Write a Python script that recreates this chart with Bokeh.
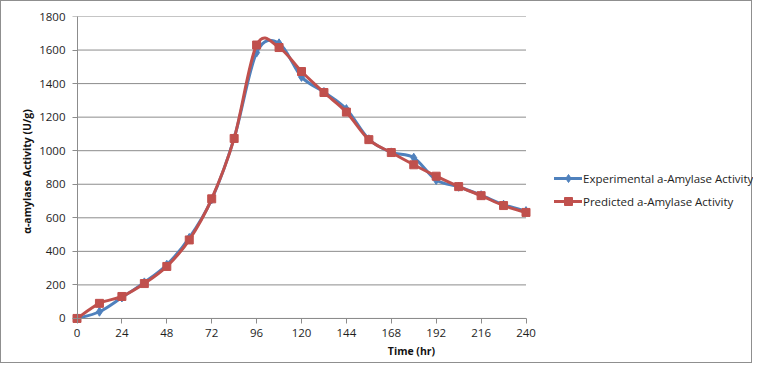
import numpy as np
from bokeh.plotting import figure
from bokeh.models import (Range1d, Legend, LegendItem, ColumnDataSource, FixedTicker,
                          LinearAxis, CustomJSTickFormatter)
from bokeh.embed import file_html
from bokeh.resources import INLINE

# ---- data ----
time_hr = [0, 12, 24, 36, 48, 60, 72, 84, 96, 108, 120, 132, 144, 156, 168, 180, 192, 204, 216, 228, 240]
experimental = [0, 40, 125, 215, 320, 480, 710, 1075, 1585, 1640, 1440, 1350, 1248, 1068, 990, 958, 825, 785, 735, 678, 640]
predicted = [0, 90, 131, 208, 310, 468, 713, 1073, 1630, 1615, 1472, 1347, 1230, 1066, 989, 916, 848, 786, 732, 673, 632]
x_ticks = [0, 24, 48, 72, 96, 120, 144, 168, 192, 216, 240]
y_ticks = [0, 200, 400, 600, 800, 1000, 1200, 1400, 1600, 1800]

BLUE = "#4F81BD"
RED = "#C0504D"
GRID = "#8c8c8c"
FONT = "Open Sans"
TXT = "#1e1e1e"

W, H = 752, 363
LEFT, TOP, BOTTOM = 68, 15, 38
PLOT_W = 449          # pixels covered by the 0..240 axis
X_PAD_PX, Y_PAD = 7.5, 48


def bezier_source(xs, ys):
    x = np.asarray(xs, dtype=float)
    y = np.asarray(ys, dtype=float)
    n = len(x)
    xp = np.concatenate([[x[0]], x, [x[-1]]])
    yp = np.concatenate([[y[0]], y, [y[-1]]])
    i = np.arange(n - 1)
    # Excel-like smoothed line (Catmull-Rom control points)
    cx0 = x[i] + (xp[i + 2] - xp[i]) / 6.0
    cy0 = y[i] + (yp[i + 2] - yp[i]) / 6.0
    cx1 = x[i + 1] - (xp[i + 3] - xp[i + 1]) / 6.0
    cy1 = y[i + 1] - (yp[i + 3] - yp[i + 1]) / 6.0
    return ColumnDataSource(dict(x0=x[i], y0=y[i], x1=x[i + 1], y1=y[i + 1],
                                 cx0=cx0, cy0=cy0, cx1=cx1, cy1=cy1))


x_lo, x_hi = x_ticks[0], x_ticks[-1]
y_lo, y_hi = y_ticks[0], y_ticks[-1]
px_per_x = PLOT_W / (x_hi - x_lo)
frame_w = W - LEFT
x_start = x_lo - X_PAD_PX / px_per_x
x_end = x_start + frame_w / px_per_x

p = figure(width=W, height=H, output_backend="svg", toolbar_location=None,
           x_range=Range1d(x_start, x_end), y_range=Range1d(y_lo - Y_PAD, y_hi),
           x_axis_location=None, y_axis_location=None,
           min_border_left=LEFT, min_border_right=0, min_border_top=TOP, min_border_bottom=BOTTOM,
           styles={"border": "1px solid #8f8f8f", "box-sizing": "border-box"})
p.outline_line_color = None
p.background_fill_color = "white"
p.border_fill_color = "white"
p.xgrid.visible = False
p.ygrid.visible = False

# horizontal gridlines spanning exactly the axis extent
p.segment(x0=[x_lo] * len(y_ticks), x1=[x_hi] * len(y_ticks), y0=y_ticks, y1=y_ticks,
          line_color=GRID, line_width=1)

blank = CustomJSTickFormatter(code="return ''")

# axis lines + tick marks crossing at the origin
x_line = LinearAxis(ticker=FixedTicker(ticks=x_ticks), fixed_location=y_lo, bounds=(x_lo, x_hi),
                    formatter=blank, axis_line_color=GRID, major_tick_line_color=GRID,
                    minor_tick_line_color=None, major_tick_in=0, major_tick_out=5)
y_line = LinearAxis(ticker=FixedTicker(ticks=y_ticks), fixed_location=x_lo, bounds=(y_lo, y_hi),
                    formatter=blank, axis_line_color=GRID, major_tick_line_color=GRID,
                    minor_tick_line_color=None, major_tick_in=0, major_tick_out=5)
p.add_layout(x_line, "below")
p.add_layout(y_line, "left")

# tick labels + axis titles
x_lab = LinearAxis(ticker=FixedTicker(ticks=x_ticks), axis_line_color=None,
                   major_tick_line_color=None, minor_tick_line_color=None,
                   major_tick_in=0, major_tick_out=0, major_label_standoff=2,
                   axis_label="Time (hr)", axis_label_standoff=4)
y_lab = LinearAxis(ticker=FixedTicker(ticks=y_ticks), axis_line_color=None,
                   major_tick_line_color=None, minor_tick_line_color=None,
                   major_tick_in=0, major_tick_out=0, major_label_standoff=4,
                   axis_label="α-amylase Activity (U/g)", axis_label_standoff=2)
for ax in (x_lab, y_lab):
    ax.major_label_text_font = FONT
    ax.major_label_text_font_size = "11.5px"
    ax.major_label_text_color = TXT
    ax.axis_label_text_font = FONT
    ax.axis_label_text_font_style = "bold"
    ax.axis_label_text_font_size = "10.5px"
    ax.axis_label_text_color = "#111111"
p.add_layout(x_lab, "below")
p.add_layout(y_lab, "left")

src_e = bezier_source(time_hr, experimental)
src_p = bezier_source(time_hr, predicted)

line_e = p.bezier(x0="x0", y0="y0", x1="x1", y1="y1", cx0="cx0", cy0="cy0", cx1="cx1", cy1="cy1",
                  source=src_e, line_color=BLUE, line_width=3, line_cap="round")
mark_e = p.scatter(time_hr, experimental, marker="diamond", size=9, fill_color=BLUE, line_color=BLUE)
line_p = p.bezier(x0="x0", y0="y0", x1="x1", y1="y1", cx0="cx0", cy0="cy0", cx1="cx1", cy1="cy1",
                  source=src_p, line_color=RED, line_width=3, line_cap="round")
mark_p = p.scatter(time_hr, predicted, marker="square", size=8, fill_color=RED, line_color=RED)

legend = Legend(items=[
    LegendItem(label="Experimental a-Amylase Activity", renderers=[line_e, mark_e]),
    LegendItem(label="Predicted a-Amylase Activity", renderers=[line_p, mark_p]),
], location=(485, 115))
legend.border_line_color = None
legend.background_fill_alpha = 0
legend.padding = 0
legend.margin = 0
legend.spacing = 3
legend.glyph_width = 28
legend.glyph_height = 20
legend.label_standoff = 1
legend.label_text_font = FONT
legend.label_text_font_size = "11.5px"
legend.label_text_color = TXT
p.add_layout(legend, "center")

open("out.html", "w").write(file_html(p, INLINE))
